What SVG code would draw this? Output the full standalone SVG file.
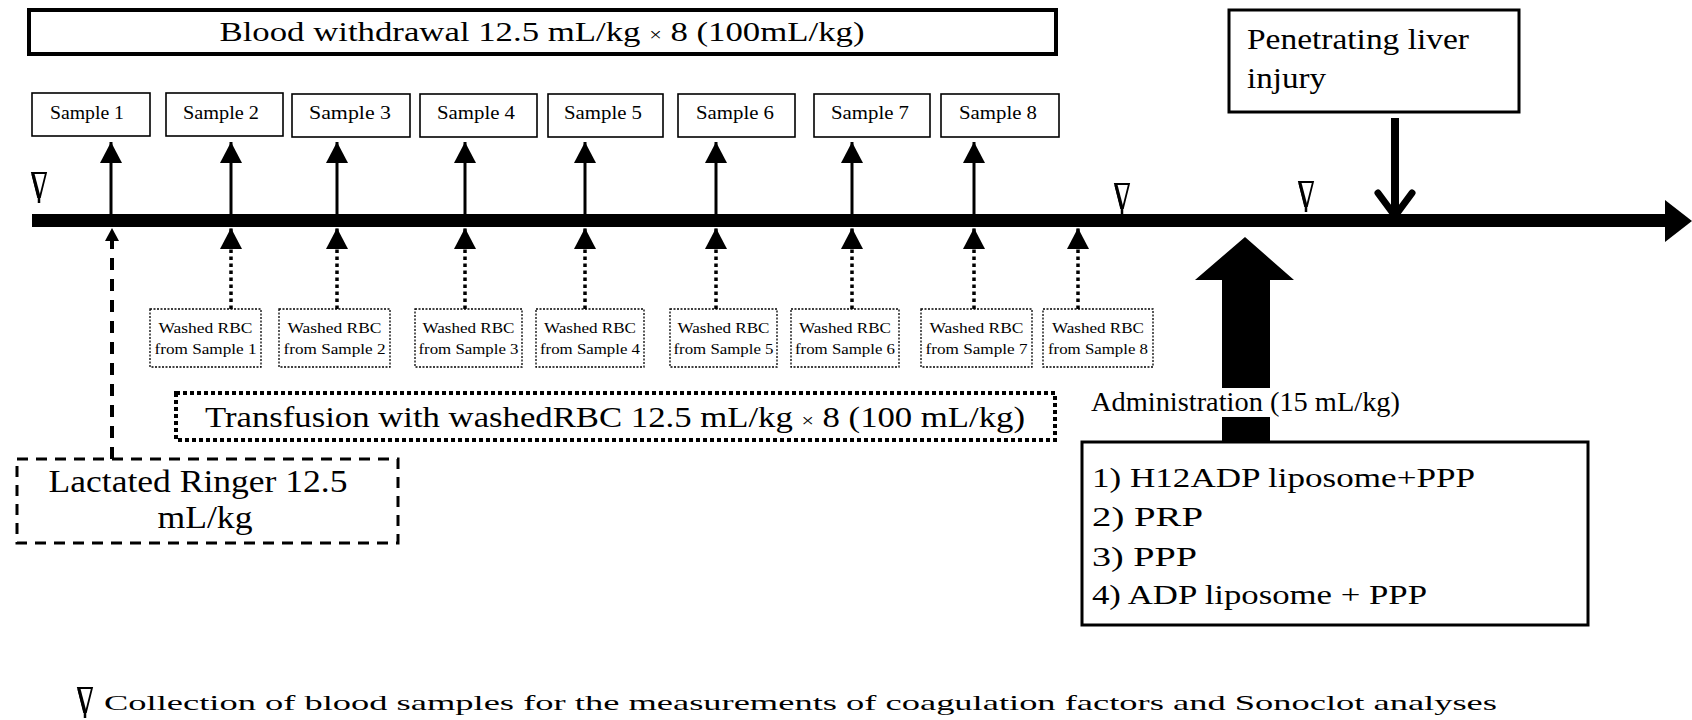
<svg xmlns="http://www.w3.org/2000/svg" xmlns:xlink="http://www.w3.org/1999/xlink" width="1692" height="720" viewBox="0 0 1692 720">
<style>
  text { font-family: "Liberation Serif", "Times New Roman", serif; fill: #000; }
  .solidbox { fill: #fff; stroke: #000; stroke-width: 1.6; }
  .thickbox { fill: #fff; stroke: #000; stroke-width: 4; }
  .medbox { fill: #fff; stroke: #000; stroke-width: 3; }
  .dotbox { fill: #fff; stroke: #000; stroke-width: 1.3; stroke-dasharray: 2 1.5; }
  .smp { font-size: 18px; text-anchor: middle; }
  .wrbc { font-size: 15px; text-anchor: middle; }
  .upline { stroke: #000; stroke-width: 3; fill: none; }
  .dotline { stroke: #000; stroke-width: 3.5; stroke-dasharray: 3.5 3.5; fill: none; }
</style>
<defs>
  <marker id="head" viewBox="0 0 21 22" refX="21" refY="11" markerWidth="21" markerHeight="22" markerUnits="userSpaceOnUse" orient="auto">
    <path d="M0 0 L21 11 L0 22 Z" fill="#000" stroke="none"/>
  </marker>
  <marker id="smallhead" viewBox="0 0 13 14" refX="13" refY="7" markerWidth="13" markerHeight="14" markerUnits="userSpaceOnUse" orient="auto">
    <path d="M0 0 L13 7 L0 14 Z" fill="#000" stroke="none"/>
  </marker>
  <g id="pip">
    <path d="M-7 0 L7 0 L1 24 L-1 24 Z" fill="#fff" stroke="#000" stroke-width="1.8" stroke-linejoin="miter"/>
    <line x1="-6" y1="1" x2="0" y2="24" stroke="#000" stroke-width="3"/>
    <line x1="0" y1="22" x2="0" y2="30" stroke="#000" stroke-width="2.5"/>
  </g>
</defs>
<rect width="1692" height="720" fill="#fff"/>

<!-- Connectors -->
<g id="connectors">
  <!-- timeline -->
  <line x1="32" y1="220.5" x2="1668" y2="220.5" stroke="#000" stroke-width="13"/>
  <polygon points="1665,200 1692,221 1665,242" fill="#000"/>
  <!-- withdrawal arrows (up to samples) -->
  <line class="upline" x1="111" y1="214" x2="111" y2="142" marker-end="url(#head)"/>
  <line class="upline" x1="231" y1="214" x2="231" y2="142" marker-end="url(#head)"/>
  <line class="upline" x1="337" y1="214" x2="337" y2="142" marker-end="url(#head)"/>
  <line class="upline" x1="465" y1="214" x2="465" y2="142" marker-end="url(#head)"/>
  <line class="upline" x1="585" y1="214" x2="585" y2="142" marker-end="url(#head)"/>
  <line class="upline" x1="716" y1="214" x2="716" y2="142" marker-end="url(#head)"/>
  <line class="upline" x1="852" y1="214" x2="852" y2="142" marker-end="url(#head)"/>
  <line class="upline" x1="974" y1="214" x2="974" y2="142" marker-end="url(#head)"/>
  <!-- transfusion arrows (dotted, from washed RBC) -->
  <line class="dotline" x1="231" y1="309" x2="231" y2="228" marker-end="url(#head)"/>
  <line class="dotline" x1="337" y1="309" x2="337" y2="228" marker-end="url(#head)"/>
  <line class="dotline" x1="465" y1="309" x2="465" y2="228" marker-end="url(#head)"/>
  <line class="dotline" x1="585" y1="309" x2="585" y2="228" marker-end="url(#head)"/>
  <line class="dotline" x1="716" y1="309" x2="716" y2="228" marker-end="url(#head)"/>
  <line class="dotline" x1="852" y1="309" x2="852" y2="228" marker-end="url(#head)"/>
  <line class="dotline" x1="974" y1="309" x2="974" y2="228" marker-end="url(#head)"/>
  <line class="dotline" x1="1078" y1="309" x2="1078" y2="228" marker-end="url(#head)"/>
  <!-- lactated ringer dashed connector -->
  <line x1="112" y1="459" x2="112" y2="228" stroke="#000" stroke-width="4" stroke-dasharray="12 9" marker-end="url(#smallhead)"/>
  <!-- injury arrow -->
  <rect x="1391" y="118" width="8" height="98" fill="#000"/>
  <polyline points="1378,193 1395,216 1412,193" fill="none" stroke="#000" stroke-width="7" stroke-linecap="round" stroke-linejoin="round"/>
  <!-- administration arrow -->
  <polygon points="1245,237 1294,280 1270,280 1270,442 1222,442 1222,280 1195,280" fill="#000"/>
</g>

<!-- sampling markers -->
<g id="markers">
  <use xlink:href="#pip" href="#pip" x="39" y="173"/>
  <use xlink:href="#pip" href="#pip" x="1122" y="184"/>
  <use xlink:href="#pip" href="#pip" x="1306" y="182"/>
</g>

<g id="blood-withdrawal">
  <rect class="thickbox" x="29" y="10" width="1027" height="44"/>
  <text x="542" y="41" font-size="28" text-anchor="middle" textLength="645" lengthAdjust="spacingAndGlyphs">Blood withdrawal  12.5 mL/kg <tspan font-size="18">×</tspan> 8 (100mL/kg)</text>
</g>

<g id="sample1"><rect class="solidbox" x="32" y="93" width="118" height="43"/><text class="smp" x="87" y="119" textLength="74" lengthAdjust="spacingAndGlyphs">Sample 1</text></g>
<g id="sample2"><rect class="solidbox" x="166" y="93" width="117" height="43"/><text class="smp" x="221" y="119" textLength="76" lengthAdjust="spacingAndGlyphs">Sample 2</text></g>
<g id="sample3"><rect class="solidbox" x="292" y="94" width="118" height="43"/><text class="smp" x="350" y="119" textLength="82" lengthAdjust="spacingAndGlyphs">Sample 3</text></g>
<g id="sample4"><rect class="solidbox" x="420" y="94" width="117" height="43"/><text class="smp" x="476" y="119" textLength="78" lengthAdjust="spacingAndGlyphs">Sample 4</text></g>
<g id="sample5"><rect class="solidbox" x="548" y="94" width="115" height="43"/><text class="smp" x="603" y="119" textLength="78" lengthAdjust="spacingAndGlyphs">Sample 5</text></g>
<g id="sample6"><rect class="solidbox" x="678" y="94" width="117" height="43"/><text class="smp" x="735" y="119" textLength="78" lengthAdjust="spacingAndGlyphs">Sample 6</text></g>
<g id="sample7"><rect class="solidbox" x="814" y="94" width="116" height="43"/><text class="smp" x="870" y="119" textLength="78" lengthAdjust="spacingAndGlyphs">Sample 7</text></g>
<g id="sample8"><rect class="solidbox" x="941" y="94" width="118" height="43"/><text class="smp" x="998" y="119" textLength="78" lengthAdjust="spacingAndGlyphs">Sample 8</text></g>

<g id="washed1"><rect class="dotbox" x="150" y="309" width="111" height="58"/><text class="wrbc" x="205.5" y="333" textLength="94" lengthAdjust="spacingAndGlyphs">Washed RBC</text><text class="wrbc" x="205.5" y="354" textLength="102" lengthAdjust="spacingAndGlyphs">from Sample 1</text></g>
<g id="washed2"><rect class="dotbox" x="279" y="309" width="111" height="58"/><text class="wrbc" x="334.5" y="333" textLength="94" lengthAdjust="spacingAndGlyphs">Washed RBC</text><text class="wrbc" x="334.5" y="354" textLength="102" lengthAdjust="spacingAndGlyphs">from Sample 2</text></g>
<g id="washed3"><rect class="dotbox" x="415" y="309" width="107" height="58"/><text class="wrbc" x="468.5" y="333" textLength="92" lengthAdjust="spacingAndGlyphs">Washed RBC</text><text class="wrbc" x="468.5" y="354" textLength="100" lengthAdjust="spacingAndGlyphs">from Sample 3</text></g>
<g id="washed4"><rect class="dotbox" x="536" y="309" width="108" height="58"/><text class="wrbc" x="590" y="333" textLength="92" lengthAdjust="spacingAndGlyphs">Washed RBC</text><text class="wrbc" x="590" y="354" textLength="100" lengthAdjust="spacingAndGlyphs">from Sample 4</text></g>
<g id="washed5"><rect class="dotbox" x="670" y="309" width="107" height="58"/><text class="wrbc" x="723.5" y="333" textLength="92" lengthAdjust="spacingAndGlyphs">Washed RBC</text><text class="wrbc" x="723.5" y="354" textLength="100" lengthAdjust="spacingAndGlyphs">from Sample 5</text></g>
<g id="washed6"><rect class="dotbox" x="791" y="309" width="108" height="58"/><text class="wrbc" x="845" y="333" textLength="92" lengthAdjust="spacingAndGlyphs">Washed RBC</text><text class="wrbc" x="845" y="354" textLength="100" lengthAdjust="spacingAndGlyphs">from Sample 6</text></g>
<g id="washed7"><rect class="dotbox" x="921" y="309" width="111" height="58"/><text class="wrbc" x="976.5" y="333" textLength="94" lengthAdjust="spacingAndGlyphs">Washed RBC</text><text class="wrbc" x="976.5" y="354" textLength="102" lengthAdjust="spacingAndGlyphs">from Sample 7</text></g>
<g id="washed8"><rect class="dotbox" x="1043" y="309" width="110" height="58"/><text class="wrbc" x="1098" y="333" textLength="92" lengthAdjust="spacingAndGlyphs">Washed RBC</text><text class="wrbc" x="1098" y="354" textLength="100" lengthAdjust="spacingAndGlyphs">from Sample 8</text></g>

<g id="transfusion">
  <rect x="176" y="393" width="879" height="47" fill="#fff" stroke="#000" stroke-width="4" stroke-dasharray="4 3"/>
  <text x="615" y="427" font-size="30" text-anchor="middle" textLength="820" lengthAdjust="spacingAndGlyphs">Transfusion with washedRBC  12.5 mL/kg <tspan font-size="19">×</tspan> 8 (100 mL/kg)</text>
</g>

<g id="lactated-ringer">
  <rect x="17" y="459" width="381" height="84" fill="none" stroke="#000" stroke-width="3" stroke-dasharray="11 8"/>
  <text x="198" y="492" font-size="31" text-anchor="middle" textLength="299" lengthAdjust="spacingAndGlyphs">Lactated Ringer 12.5</text>
  <text x="205" y="528" font-size="31" text-anchor="middle" textLength="95" lengthAdjust="spacingAndGlyphs">mL/kg</text>
</g>

<g id="liver-injury">
  <rect class="medbox" x="1229" y="10" width="290" height="102"/>
  <text x="1247" y="49" font-size="30" textLength="222" lengthAdjust="spacingAndGlyphs">Penetrating liver</text>
  <text x="1247" y="88" font-size="30" textLength="79" lengthAdjust="spacingAndGlyphs">injury</text>
</g>

<g id="administration-label">
  <rect x="1086" y="388" width="318" height="29" fill="#fff"/>
  <text x="1091" y="411" font-size="27" textLength="309" lengthAdjust="spacingAndGlyphs">Administration (15 mL/kg)</text>
</g>

<g id="groups">
  <rect class="medbox" x="1082" y="442" width="506" height="183"/>
  <text x="1092" y="487" font-size="28" textLength="383" lengthAdjust="spacingAndGlyphs">1) H12ADP liposome+PPP</text>
  <text x="1092" y="526" font-size="28" textLength="111" lengthAdjust="spacingAndGlyphs">2) PRP</text>
  <text x="1092" y="566" font-size="28" textLength="105" lengthAdjust="spacingAndGlyphs">3) PPP</text>
  <text x="1092" y="604" font-size="28" textLength="335" lengthAdjust="spacingAndGlyphs">4) ADP liposome + PPP</text>
</g>

<g id="legend">
  <use xlink:href="#pip" href="#pip" x="85" y="688"/>
  <text x="104" y="710" font-size="22" textLength="1393" lengthAdjust="spacingAndGlyphs">Collection of blood samples for the measurements of coagulation factors and Sonoclot analyses</text>
</g>
</svg>
